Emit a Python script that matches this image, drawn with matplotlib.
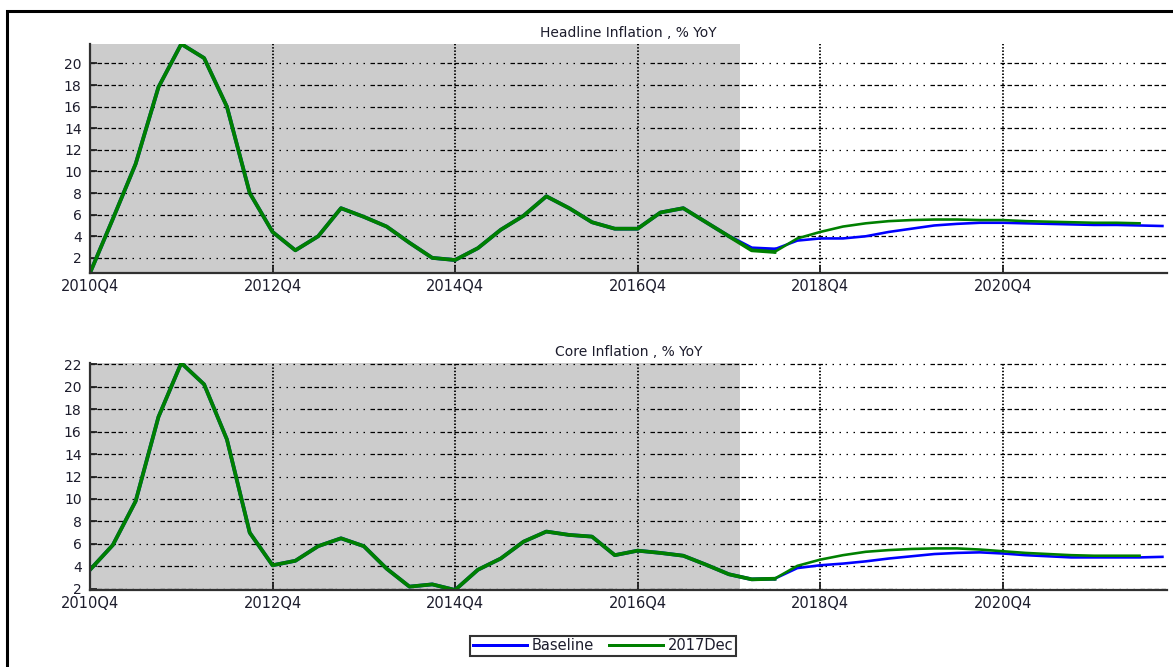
import numpy as np
import matplotlib
matplotlib.use("Agg")
import matplotlib.pyplot as plt
from matplotlib.patches import Rectangle

plt.rcParams['font.family'] = ['DejaVu Sans']
plt.rcParams['lines.scale_dashes'] = False

# ---------------- data ----------------
tick_pos = [0, 8, 16, 24, 32, 40]
tick_labels = ['2010Q4', '2012Q4', '2014Q4', '2016Q4', '2018Q4', '2020Q4']

headline_baseline = [0.6, 5.6, 10.7, 17.8, 21.8, 20.5, 16.0, 8.0, 4.4, 2.7,
                     4.0, 6.6, 5.8, 4.9, 3.4, 2.0, 1.8, 2.9, 4.6, 5.9,
                     7.7, 6.6, 5.3, 4.7, 4.7, 6.2, 6.6, 5.3, 4.0, 2.9,
                     2.8, 3.6, 3.8, 3.8, 4.0, 4.4, 4.7, 5.0, 5.15, 5.25,
                     5.25, 5.2, 5.15, 5.1, 5.05, 5.05, 5.0, 4.95]
headline_dec17 = [0.6, 5.6, 10.7, 17.8, 21.8, 20.5, 16.0, 8.0, 4.4, 2.7,
                  4.0, 6.6, 5.8, 4.9, 3.4, 2.0, 1.8, 2.9, 4.6, 5.9,
                  7.7, 6.6, 5.3, 4.7, 4.7, 6.2, 6.6, 5.3, 4.0, 2.7,
                  2.55, 3.8, 4.4, 4.9, 5.2, 5.4, 5.5, 5.55, 5.55, 5.5,
                  5.5, 5.4, 5.35, 5.3, 5.25, 5.25, 5.2]

core_baseline = [3.7, 5.9, 9.8, 17.3, 22.1, 20.2, 15.3, 7.0, 4.1, 4.5,
                 5.8, 6.5, 5.8, 3.8, 2.2, 2.4, 1.9, 3.7, 4.7, 6.2,
                 7.1, 6.8, 6.65, 5.0, 5.4, 5.2, 4.95, 4.15, 3.3, 2.85,
                 2.9, 3.85, 4.1, 4.25, 4.45, 4.7, 4.9, 5.1, 5.2, 5.25,
                 5.15, 5.0, 4.9, 4.8, 4.8, 4.8, 4.8, 4.85]
core_dec17 = [3.7, 5.9, 9.8, 17.3, 22.1, 20.2, 15.3, 7.0, 4.1, 4.5,
              5.8, 6.5, 5.8, 3.8, 2.2, 2.4, 1.9, 3.7, 4.7, 6.2,
              7.1, 6.8, 6.65, 5.0, 5.4, 5.2, 4.95, 4.15, 3.3, 2.85,
              2.9, 4.05, 4.6, 5.0, 5.3, 5.45, 5.55, 5.6, 5.6, 5.5,
              5.35, 5.2, 5.1, 5.0, 4.95, 4.95, 4.95]

titles = ['Headline Inflation , % YoY', 'Core Inflation , % YoY']
series_names = ['Baseline', '2017Dec']

# ---------------- style ----------------
W, H = 1173, 667
fig = plt.figure(figsize=(W / 100, H / 100), dpi=100)

def px2pt(v):
    return v * 0.72

hist_end = 30        # last index drawn with the thick "history" line
shade_end = 28.5
BLUE = '#0000ff'
GREEN = '#008000'
TXT = '#1c1c2c'

h_dash = []
for _ in range(5):
    h_dash += [px2pt(4.5), px2pt(2.5)]
for _ in range(5):
    h_dash += [px2pt(1.5), px2pt(5.5)]
h_dash = tuple(h_dash)
v_dash = (px2pt(1.5), px2pt(1.8))

panels = [
    dict(rect=(90, 44, 1167, 273), base=headline_baseline, alt=headline_dec17,
         ylim=(0.6, 21.8), yticks=list(range(2, 21, 2)), title=titles[0]),
    dict(rect=(90, 363, 1167, 590), base=core_baseline, alt=core_dec17,
         ylim=(1.9, 22.1), yticks=list(range(2, 23, 2)), title=titles[1]),
]

lines_for_legend = []
for p in panels:
    x0, y0, x1, y1 = p['rect']
    ax = fig.add_axes([x0 / W, 1 - y1 / H, (x1 - x0) / W, (y1 - y0) / H])
    ax.set_facecolor('white')
    ax.axvspan(0, shade_end, color='#cccccc', lw=0, zorder=0.1)

    base = np.array(p['base'])
    alt = np.array(p['alt'])
    xb = np.arange(len(base))
    xa = np.arange(len(alt))

    # history (thick) segments
    ax.plot(xb[:hist_end + 1], base[:hist_end + 1], color=BLUE, lw=px2pt(3.6),
            solid_joinstyle='round', zorder=2)
    ax.plot(xa[:hist_end + 1], alt[:hist_end + 1], color=GREEN, lw=px2pt(3.8),
            solid_joinstyle='round', zorder=2.1)
    # forecast (thin) segments
    lb, = ax.plot(xb[hist_end:], base[hist_end:], color=BLUE, lw=px2pt(2.6),
                  solid_joinstyle='round', zorder=2)
    la, = ax.plot(xa[hist_end:], alt[hist_end:], color=GREEN, lw=px2pt(2.6),
                  solid_joinstyle='round', zorder=2.1)
    lines_for_legend = [lb, la]

    ax.set_xlim(0, 47.2)
    ax.set_ylim(*p['ylim'])
    ax.set_xticks(tick_pos)
    ax.set_xticklabels(tick_labels)
    ax.set_yticks(p['yticks'])

    ax.tick_params(axis='both', direction='in', length=5, width=1.3,
                   colors='#222222', labelcolor=TXT)
    ax.tick_params(axis='x', pad=4.5, labelsize=10.5)
    ax.tick_params(axis='y', pad=6, labelsize=10)

    for s in ['top', 'right']:
        ax.spines[s].set_visible(False)
    for s in ['left', 'bottom']:
        ax.spines[s].set_linewidth(1.6)
        ax.spines[s].set_color('#303030')

    ax.set_axisbelow('line')
    ax.yaxis.grid(True, color='black', lw=0.9, linestyle=(0, h_dash))
    ax.xaxis.grid(True, color='black', lw=1.3, linestyle=(0, v_dash))

    ax.set_title(p['title'], fontsize=10, color=TXT, pad=5)

leg = fig.legend(lines_for_legend, series_names, loc='center',
                 bbox_to_anchor=(603 / W, 1 - 646 / H), ncol=2,
                 fontsize=10.5, frameon=True, fancybox=False,
                 handlelength=3.7, handletextpad=0.35, columnspacing=1.0,
                 borderpad=0.2, borderaxespad=0)
for t in leg.get_texts():
    t.set_color(TXT)
for h in leg.legend_handles:
    h.set_linewidth(px2pt(3))
fr = leg.get_frame()
fr.set_edgecolor('black')
fr.set_linewidth(1.5)

# figure border
fig.add_artist(Rectangle((7 / W, -0.2), 1.2, (H - 11) / H + 0.2,
                         transform=fig.transFigure, fill=False,
                         edgecolor='black', lw=2.2, clip_on=False))

fig.savefig('out.png', dpi=100)
